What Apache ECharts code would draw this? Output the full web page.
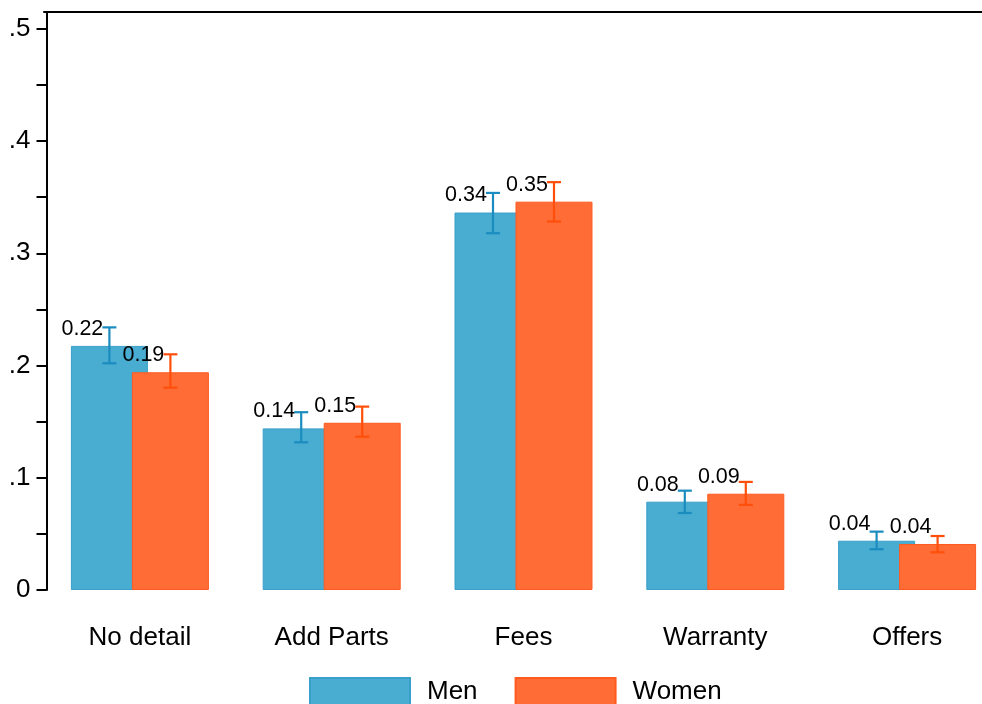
<!DOCTYPE html>
<html>
<head>
<meta charset="utf-8">
<script src="https://cdn.jsdelivr.net/npm/echarts@6/dist/echarts.min.js"></script>
<style>html,body{margin:0;padding:0;background:#fff;overflow:hidden;width:982px;height:704px}#c{width:1010px;height:704px}</style>
</head>
<body>
<div id="c"></div>
<script>
const categories = ['No detail', 'Add Parts', 'Fees', 'Warranty', 'Offers'];
const seriesNames = ['Men', 'Women'];
const menMean = [0.2175, 0.144, 0.3363, 0.0787, 0.0439];
const menLow = [0.202, 0.1316, 0.3179, 0.0686, 0.0363];
const menHigh = [0.234, 0.1584, 0.3538, 0.0885, 0.052];
const womenMean = [0.194, 0.149, 0.346, 0.0858, 0.041];
const womenLow = [0.1803, 0.1366, 0.3283, 0.0758, 0.0336];
const womenHigh = [0.21, 0.1634, 0.3634, 0.0963, 0.0481];
const yLabelValues = [0, 0.1, 0.2, 0.3, 0.4, 0.5];
const yTickValues = [0, 0.05, 0.1, 0.15, 0.2, 0.25, 0.3, 0.35, 0.4, 0.45, 0.5];

const FONT = 'Liberation Sans, Arial, Helvetica, sans-serif';
const BAR_W = 77;
const OVERLAP = 16;
const colors = {
  menBar: '#49acd1', menBorder: '#3b9fc9', menErr: '#1a8cbf',
  womenBar: '#ff6c36', womenBorder: '#ff5a20', womenErr: '#ff4f0a'
};

function errSeries(name, low, high, color, side) {
  return {
    type: 'custom',
    name: name + ' CI',
    xAxisIndex: 0,
    yAxisIndex: 0,
    z: 5,
    silent: true,
    data: categories.map((c, i) => [i, low[i], high[i]]),
    renderItem: function (params, api) {
      const idx = api.value(0);
      const lo = api.coord([idx, api.value(1)]);
      const hi = api.coord([idx, api.value(2)]);
      const dx = side * (BAR_W - OVERLAP) / 2;
      const x = lo[0] + dx;
      const cap = 7;
      const st = { stroke: color, lineWidth: 2.2, fill: null };
      return {
        type: 'group',
        children: [
          { type: 'line', shape: { x1: x, y1: hi[1], x2: x, y2: lo[1] }, style: st },
          { type: 'line', shape: { x1: x - cap, y1: hi[1], x2: x + cap, y2: hi[1] }, style: st },
          { type: 'line', shape: { x1: x - cap, y1: lo[1], x2: x + cap, y2: lo[1] }, style: st }
        ]
      };
    }
  };
}

const labelCfg = {
  show: true,
  position: 'top',
  distance: 5,
  offset: [-27, -1],
  color: '#000',
  fontFamily: FONT,
  fontSize: 21.5,
  formatter: p => Number(p.value).toFixed(2)
};

const chart = echarts.init(document.getElementById('c'), null, { renderer: 'canvas' });
chart.setOption({
  animation: false,
  backgroundColor: '#fff',
  textStyle: { fontFamily: FONT },
  grid: { left: 44, top: 12, width: 959, height: 578, containLabel: false },
  legend: {
    data: seriesNames,
    left: 304,
    top: 672,
    itemWidth: 100,
    itemHeight: 28,
    itemGap: 37,
    icon: 'rect',
    textStyle: { fontFamily: FONT, fontSize: 26, color: '#000', padding: [0, 0, 0, 12] }
  },
  xAxis: [
    {
      type: 'category',
      data: categories,
      position: 'bottom',
      axisLine: { show: false },
      axisTick: { show: false },
      axisLabel: { color: '#000', fontSize: 26, fontFamily: FONT, margin: 35 },
      splitLine: { show: false }
    },
    {
      type: 'category',
      data: categories,
      position: 'top',
      axisLine: { show: true, lineStyle: { color: '#000', width: 2 } },
      axisTick: { show: false },
      axisLabel: { show: false },
      splitLine: { show: false }
    }
  ],
  yAxis: {
    type: 'value',
    min: 0,
    max: 0.515,
    offset: -2.5,
    axisLine: { show: true, lineStyle: { color: '#000', width: 2 } },
    axisTick: { show: true, length: 10, lineStyle: { color: '#000', width: 2 }, customValues: yTickValues },
    axisLabel: {
      color: '#000', fontSize: 26, fontFamily: FONT, margin: 16,
      customValues: yLabelValues,
      formatter: v => (v === 0 ? '0' : String(Math.round(v * 10) / 10).replace(/^0\./, '.'))
    },
    splitLine: { show: false }
  },
  series: [
    {
      type: 'bar',
      name: 'Men',
      data: menMean,
      barWidth: BAR_W,
      barGap: (-OVERLAP / BAR_W * 100).toFixed(2) + '%',
      itemStyle: { color: colors.menBar, borderColor: colors.menBorder, borderWidth: 1 },
      label: labelCfg,
      z: 2
    },
    {
      type: 'bar',
      name: 'Women',
      data: womenMean,
      barWidth: BAR_W,
      itemStyle: { color: colors.womenBar, borderColor: colors.womenBorder, borderWidth: 1 },
      label: labelCfg,
      z: 3
    },
    errSeries('Men', menLow, menHigh, colors.menErr, -1),
    errSeries('Women', womenLow, womenHigh, colors.womenErr, 1)
  ]
});
</script>
</body>
</html>
